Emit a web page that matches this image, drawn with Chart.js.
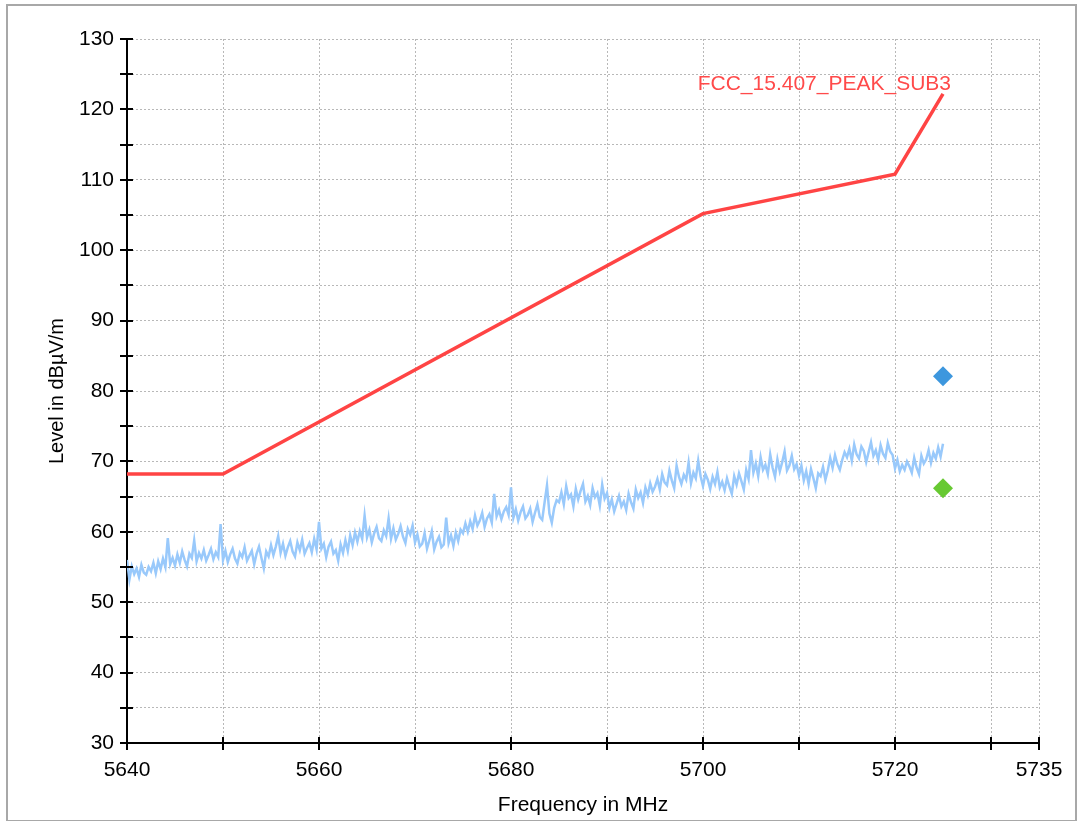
<!DOCTYPE html>
<html><head><meta charset="utf-8">
<script src="https://cdn.jsdelivr.net/npm/chart.js@4.4.1/dist/chart.umd.min.js"></script>
<style>html,body{margin:0;padding:0;background:#fff;}canvas{display:block;}</style>
</head><body>
<canvas id="c" width="1078" height="821"></canvas>
<script>
// ---- data ----
const traceStartMHz = 5640;
const traceStepMHz = 0.25;
const traceLevels = [
  56.0, 53.2, 55.1, 54.0, 54.8, 53.6, 55.3, 54.2, 53.9, 55.0, 54.4, 55.6, 54.1, 55.8, 54.7, 56.2, 55.0, 59.1, 55.4, 56.3,
  55.2, 56.8, 55.6, 57.2, 56.0, 55.1, 56.9, 56.3, 58.8, 55.8, 57.0, 56.2, 57.4, 55.9, 56.7, 57.6, 56.1, 57.1, 56.4, 61.1,
  56.0, 57.3, 55.7, 56.8, 57.6, 56.2, 55.5, 57.0, 56.4, 57.8, 55.9, 56.6, 57.3, 55.4, 56.9, 57.9, 56.3, 54.8, 57.2, 56.5,
  58.1, 56.7, 57.9, 59.4, 57.0, 58.3, 56.6, 57.8, 58.7, 57.2, 56.5, 58.5, 57.4, 58.9, 56.9, 57.7, 58.4, 57.1, 59.0, 57.5,
  61.4, 57.6, 58.3, 56.4, 57.9, 58.6, 56.9, 57.4, 55.9, 58.2, 57.0, 58.8, 57.3, 59.5, 58.1, 59.9, 58.6, 60.1, 59.0, 62.3,
  59.2, 60.3, 58.5, 59.8, 60.7, 59.1, 58.7, 60.2, 59.4, 61.9, 59.0, 60.5, 58.9, 59.7, 60.8, 59.3, 58.4, 60.4, 59.6, 60.9,
  58.5, 59.6, 57.9, 58.3, 59.8, 57.6, 58.8, 60.1, 57.5, 58.6, 59.3, 57.8, 58.2, 62.0, 58.4, 59.5, 58.0, 59.9, 58.7, 60.3,
  59.8, 61.2, 60.0, 61.5, 60.4, 62.3, 60.9, 61.6, 62.7, 60.7, 61.9, 62.5, 61.3, 65.4, 62.2, 63.1, 61.8, 62.9, 63.5, 62.4,
  66.3, 62.0, 63.2, 61.6, 62.8, 63.6, 61.9, 62.4, 63.3, 61.4, 62.7, 63.9, 62.1, 61.7, 64.2, 66.6, 62.6, 61.3, 63.4, 64.5,
  64.2, 65.6, 63.9, 66.5, 64.8, 65.3, 63.6, 66.1, 64.6, 65.8, 66.8, 64.3, 65.1, 63.8, 66.2, 64.9, 65.5, 63.7, 66.7, 64.7,
  65.5, 63.4, 64.6, 62.9, 64.0, 65.1, 63.6, 64.3, 63.1, 65.4, 64.2, 63.3, 66.0, 64.8, 65.6, 64.1, 66.3, 65.2, 66.9, 65.7,
  66.4, 67.5, 66.0, 68.2, 67.0, 66.6, 68.7, 67.3, 66.2, 69.4, 67.8, 66.8, 68.1, 67.4, 69.8, 66.9, 68.4, 67.6, 70.1, 67.9,
  66.5, 68.2, 67.4, 66.1, 67.8, 66.8, 68.5, 66.3, 67.1, 65.9, 67.6, 66.4, 65.4, 67.9, 66.7, 68.3, 67.2, 66.0, 68.8, 67.5,
  71.6, 68.4, 69.7, 67.9, 70.6, 68.8, 69.5, 68.2, 71.0, 69.1, 67.8, 70.3, 68.6, 69.9, 71.4, 68.7, 69.4, 70.8, 68.9, 69.6,
  68.0, 69.4, 67.3, 68.6, 66.8, 68.9, 67.6, 66.2, 68.3, 67.9, 69.2, 67.4, 68.7, 70.5, 69.1, 70.9, 69.6, 68.8, 70.2, 71.3,
  70.6, 71.8, 70.1, 72.4, 71.0, 70.4, 72.1, 71.5, 69.9, 71.3, 72.7, 70.8, 71.6, 70.2, 72.3, 71.1, 70.5, 72.6, 71.4, 70.9,
  69.0, 70.2, 68.6, 69.5, 68.8, 70.0, 69.3, 68.4, 70.5, 69.1, 68.2, 70.8, 69.7, 70.3, 71.6, 69.8, 71.2, 70.4, 72.0, 70.7,
  72.5
];
const limitFreqs = [5640, 5650, 5700, 5720, 5725];
const limitLevels = [68.2, 68.2, 105.2, 110.8, 122.2];
const limitName = 'FCC_15.407_PEAK_SUB3';
const limitNameLevel = 122.8;
const finalFreqs = [5725];
const peakLevels = [82.1];
const avgLevels = [66.2];
const xTickValues = [5640, 5650, 5660, 5670, 5680, 5690, 5700, 5710, 5720, 5730, 5735];
const xTickLabels = [5640, 5660, 5680, 5700, 5720, 5735];
const yMin = 30, yMax = 130, yGridStep = 5, yLabelStep = 10;
const xTitle = 'Frequency in MHz';
const yTitle = 'Level in dBµV/m';

// ---- build library structures ----
const traceData = traceLevels.map((v, i) => ({x: traceStartMHz + i * traceStepMHz, y: v}));
const limitData = limitFreqs.map((f, i) => ({x: f, y: limitLevels[i]}));
const peakData = finalFreqs.map((f, i) => ({x: f, y: peakLevels[i]}));
const avgData = finalFreqs.map((f, i) => ({x: f, y: avgLevels[i]}));

const FONT = "'Liberation Sans', Arial, sans-serif";

const decor = {
  id: 'decor',
  beforeDraw(chart) {
    const ctx = chart.ctx;
    ctx.save();
    ctx.fillStyle = '#fff';
    ctx.fillRect(0, 0, chart.width, chart.height);
    ctx.strokeStyle = '#a8a8a8';
    ctx.lineWidth = 2;
    ctx.strokeRect(7, 5, chart.width - 9, chart.height - 5);
    ctx.restore();
  },
  afterDatasetsDraw(chart) {
    const ctx = chart.ctx;
    const xs = chart.scales.x, ys = chart.scales.y;
    const area = chart.chartArea;
    ctx.save();
    // tick marks crossing the axes
    ctx.strokeStyle = '#000';
    ctx.lineWidth = 2;
    ctx.beginPath();
    xs.ticks.forEach(t => {
      const px = Math.round(xs.getPixelForValue(t.value));
      ctx.moveTo(px, area.bottom - 6);
      ctx.lineTo(px, area.bottom + 7);
    });
    ys.ticks.forEach(t => {
      const py = Math.round(ys.getPixelForValue(t.value));
      ctx.moveTo(area.left - 7, py);
      ctx.lineTo(area.left + 6, py);
    });
    ctx.stroke();
    // limit line name
    ctx.fillStyle = '#ff4a4a';
    ctx.font = '21px ' + FONT;
    ctx.textAlign = 'right';
    ctx.textBaseline = 'alphabetic';
    const lx = xs.getPixelForValue(limitFreqs[limitFreqs.length - 1]) + 8;
    const ly = ys.getPixelForValue(limitNameLevel);
    ctx.fillText(limitName, lx, ly);
    ctx.restore();
  }
};

new Chart(document.getElementById('c'), {
  type: 'line',
  data: {
    datasets: [
      {label: 'trace', data: traceData, borderColor: '#99c9fb', borderWidth: 2.5, pointRadius: 0, tension: 0, order: 3},
      {label: limitName, data: limitData, borderColor: '#ff4444', borderWidth: 3.5, pointRadius: 0, tension: 0, order: 2},
      {label: 'peak', data: peakData, showLine: false, pointStyle: 'rectRot', pointRadius: 10, pointBackgroundColor: '#3d97de', pointBorderColor: '#3d97de', pointBorderWidth: 0, order: 1},
      {label: 'avg', data: avgData, showLine: false, pointStyle: 'rectRot', pointRadius: 10, pointBackgroundColor: '#67c932', pointBorderColor: '#67c932', pointBorderWidth: 0, order: 1}
    ]
  },
  options: {
    responsive: false,
    animation: false,
    devicePixelRatio: 1,
    layout: {padding: {left: 0, top: 39, right: 39, bottom: 0}},
    plugins: {legend: {display: false}, tooltip: {enabled: false}},
    scales: {
      x: {
        type: 'linear', min: 5640, max: 5735,
        afterBuildTicks: s => { s.ticks = xTickValues.map(v => ({value: v})); },
        afterFit: s => { s.height = 78; },
        ticks: {autoSkip: false, maxRotation: 0, padding: 15, color: '#000',
          font: {family: FONT, size: 21},
          callback: v => xTickLabels.includes(v) ? String(v) : ''},
        grid: {color: '#b8b8b8', lineWidth: 1, drawTicks: false},
        border: {display: true, color: '#000', width: 2, dash: [2, 2]},
        title: {display: true, text: xTitle, color: '#000', font: {family: FONT, size: 21}, padding: {top: 0, bottom: 3}}
      },
      y: {
        type: 'linear', min: yMin, max: yMax,
        afterBuildTicks: s => { const t = []; for (let v = yMin; v <= yMax; v += yGridStep) t.push({value: v}); s.ticks = t; },
        afterFit: s => { s.width = 127; },
        ticks: {autoSkip: false, padding: 13, color: '#000',
          font: {family: FONT, size: 21},
          callback: v => (v % yLabelStep === 0) ? String(v) : ''},
        grid: {color: '#b8b8b8', lineWidth: 1, drawTicks: false},
        border: {display: true, color: '#000', width: 2, dash: [2, 2]},
        title: {display: true, text: yTitle, color: '#000', font: {family: FONT, size: 20}, padding: {top: 45, bottom: 0}}
      }
    }
  },
  plugins: [decor]
});
</script>
</body></html>
